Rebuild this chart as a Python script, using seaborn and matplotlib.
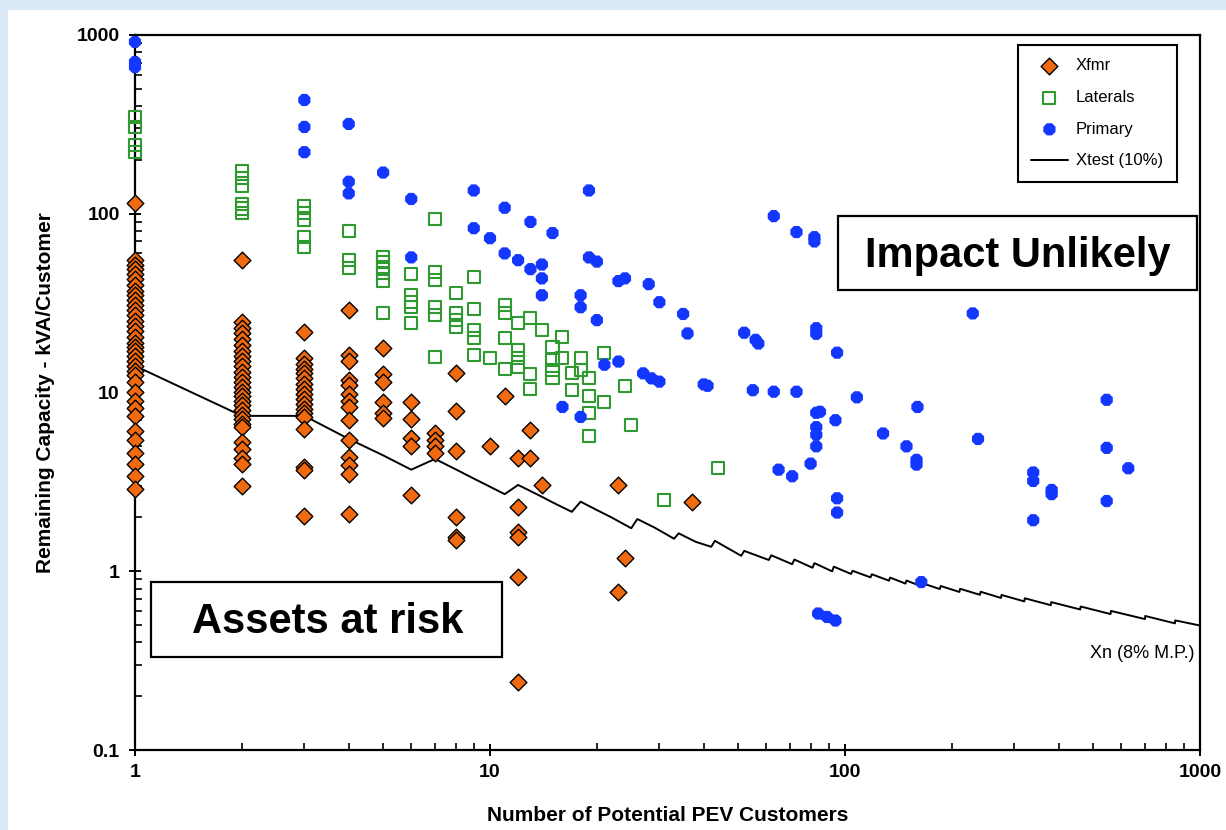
import numpy as np
import pandas as pd
import matplotlib
matplotlib.use("Agg")
import matplotlib.pyplot as plt
import seaborn as sns
from matplotlib.patches import Rectangle
from matplotlib.ticker import FixedLocator, LogLocator, NullFormatter

# ---------------- data ----------------
# Xfmr: remaining capacity per customer, columns at small customer counts
xfmr_y_n1 = [115, 55, 52, 49, 46, 43, 40, 37, 35, 33, 31, 29, 27, 25, 23.5, 22,
             20.5, 19, 18, 17, 16, 15, 14, 13.2, 12.5, 11.5, 10.1, 9.0, 8.2, 7.4,
             6.1, 5.4, 4.6, 4.0, 3.4, 2.9]
xfmr_y_n2 = [55, 24.9, 23, 21.5, 20, 18.5, 17, 16, 15, 14, 13, 12.2, 11.5, 10.8,
             10.1, 9.5, 9.0, 8.5, 8.0, 7.5, 7.1, 6.7, 6.4, 5.3, 4.8, 4.3, 4.0, 3.0]
xfmr_y_n3 = [21.9, 15.5, 14.5, 13.6, 12.8, 12, 11.2, 10.5, 9.8, 9.2, 8.6, 8.1,
             7.7, 7.3, 6.25, 3.85, 3.7, 2.03]
xfmr_y_n4 = [28.9, 16.2, 15.0, 11.7, 11.0, 9.8, 9.0, 8.3, 7.0, 5.4, 4.35, 3.95,
             3.5, 2.1]
xfmr_other_x = [5, 5, 5, 5, 5, 5, 6, 6, 6, 6, 6, 7, 7, 7, 7, 8, 8, 8, 8, 8, 8,
                10, 11, 12, 12, 12, 12, 12, 12, 13, 13, 14, 23, 23, 24, 37]
xfmr_other_y = [17.7, 12.7, 11.5, 8.9, 7.7, 7.2, 8.9, 7.1, 5.6, 5.0, 2.66, 5.95,
                5.4, 5.0, 4.6, 12.9, 7.9, 4.7, 2.0, 1.55, 1.5, 5.0, 9.6, 4.3,
                2.3, 1.65, 1.55, 0.93, 0.24, 6.2, 4.3, 3.05, 3.05, 0.77, 1.19,
                2.45]

# Laterals
lat_x = [1, 1, 1, 1, 2, 2, 2, 2, 2, 2, 3, 3, 3, 3, 3, 4, 4, 4,
         5, 5, 5, 5, 5, 5, 6, 6, 6, 6, 6, 7, 7, 7, 7, 7, 7, 8, 8, 8, 8,
         9, 9, 9, 9, 9, 10, 11, 11, 11, 11, 12, 12, 12, 12, 13, 13, 13, 14,
         15, 15, 15, 15, 16, 16, 17, 17, 18, 18, 19, 19, 19, 19, 21, 21,
         24, 25, 31, 44]
lat_y = [346, 307, 242, 222, 174, 158, 143, 114, 107, 101, 111, 101, 92, 74, 65,
         80, 55, 49.5, 57.5, 54, 50.6, 46.8, 42.2, 28, 45.8, 35, 32.2, 30.2,
         24.4, 94, 47, 42.6, 30.2, 27.1, 15.7, 35.9, 27.7, 25.4, 23.3, 44.3,
         29.5, 22.4, 20.1, 16.2, 15.5, 30.9, 27.7, 20.3, 13.5, 24.4, 17.3,
         15.5, 13.9, 26, 12.7, 10.4, 22.4, 18, 15.2, 13.4, 12, 20.5, 15.5,
         12.9, 10.3, 15.5, 13.4, 12, 9.5, 7.7, 5.7, 16.6, 8.8, 10.9, 6.6,
         2.5, 3.76]

# Primary
prim_x = [1, 1, 1, 3, 3, 3, 4, 4, 4, 5, 6, 6, 9, 9, 10, 11, 11, 12, 13, 13,
          14, 14, 14, 15, 16, 18, 18, 18, 19, 19, 20, 20, 21, 23, 23, 24, 27,
          28, 28.5, 30, 30, 35, 36, 40, 41, 52, 56, 57, 55, 63, 63, 65, 71, 73,
          73, 80, 82, 82, 83, 83, 83, 83, 83, 83, 84, 89, 94, 85, 94, 95, 95,
          95, 108, 128, 149, 159, 159, 160, 164, 229, 237, 339, 339, 339, 382,
          382, 546, 546, 546, 628]
prim_y = [915, 706, 662, 433, 306, 221, 318, 151, 130, 170, 121, 57, 135, 83,
          73, 108, 60, 55, 90, 49, 52, 43.5, 35, 78, 8.3, 35, 30, 7.3, 135, 57,
          54, 25.4, 14.3, 42, 14.9, 43.5, 12.8, 40.4, 12.0, 32, 11.5, 27.5,
          21.4, 11.1, 10.9, 21.6, 19.7, 18.8, 10.3, 97, 10.1, 3.7, 3.4, 79,
          10.1, 4.0, 74, 70, 22.9, 21.3, 7.7, 6.4, 5.8, 5.0, 0.58, 0.555, 0.53,
          7.8, 7.0, 16.7, 2.56, 2.13, 9.4, 5.9, 5.0, 4.2, 3.95, 8.3, 0.87,
          27.7, 5.5, 3.57, 3.2, 1.93, 2.85, 2.7, 9.1, 4.9, 2.47, 3.77]

# Xtest (10%) threshold curve vertices
xtest_x = [1, 2, 3, 4, 5, 6, 7, 8, 9, 10, 11, 12, 13, 14, 15, 16, 17, 18, 20,
           22, 25, 26, 29, 33, 34, 38, 42, 43, 51, 52, 61, 62, 71, 72, 81, 82,
           92, 93, 104, 105, 118, 119, 133, 134, 148, 149, 165, 166, 185, 186,
           210, 211, 240, 241, 275, 276, 320, 321, 380, 381, 460, 461, 560,
           561, 700, 701, 850, 851, 1000]
xtest_y = [14.1, 7.4, 7.4, 5.5, 4.45, 3.7, 4.25, 3.72, 3.3, 2.97, 2.7, 3.04,
           2.81, 2.61, 2.43, 2.28, 2.15, 2.45, 2.2, 2.0, 1.74, 1.96, 1.76, 1.52,
           1.63, 1.46, 1.37, 1.48, 1.22, 1.30, 1.156, 1.228, 1.095, 1.163,
           1.046, 1.110, 0.999, 1.061, 0.966, 1.006, 0.924, 0.962, 0.886,
           0.922, 0.853, 0.887, 0.820, 0.854, 0.795, 0.827, 0.766, 0.798, 0.738,
           0.768, 0.709, 0.737, 0.678, 0.706, 0.646, 0.672, 0.611, 0.635, 0.576,
           0.600, 0.540, 0.562, 0.511, 0.531, 0.497]

x_ticks = [1, 10, 100, 1000]
x_tick_labels = ["1", "10", "100", "1000"]
y_ticks = [0.1, 1, 10, 100, 1000]
y_tick_labels = ["0.1", "1", "10", "100", "1000"]

# ---------------- build tables ----------------
xfmr_x = ([1] * len(xfmr_y_n1) + [2] * len(xfmr_y_n2) + [3] * len(xfmr_y_n3)
          + [4] * len(xfmr_y_n4) + xfmr_other_x)
xfmr_y = xfmr_y_n1 + xfmr_y_n2 + xfmr_y_n3 + xfmr_y_n4 + xfmr_other_y
df_xfmr = pd.DataFrame({"n": xfmr_x, "cap": xfmr_y})
df_lat = pd.DataFrame({"n": lat_x, "cap": lat_y})
df_prim = pd.DataFrame({"n": prim_x, "cap": prim_y})
df_line = pd.DataFrame({"n": xtest_x, "cap": xtest_y})

# ---------------- style ----------------
sns.set_style("white")
plt.rcParams["font.family"] = ["Liberation Sans", "DejaVu Sans"]
plt.rcParams["text.color"] = "black"
plt.rcParams["axes.labelcolor"] = "black"
plt.rcParams["xtick.color"] = "black"
plt.rcParams["ytick.color"] = "black"

ORANGE = "#f26a0f"
GREEN = "#2f9a2f"
BLUE = "#1437ff"

fig = plt.figure(figsize=(12.26, 8.30), dpi=100, facecolor="#dce9f6")
fig.patches.append(Rectangle((8 / 1226, 0), 1, 1 - 10 / 830,
                             transform=fig.transFigure, facecolor="white",
                             edgecolor="none", zorder=-5))
ax = fig.add_axes([135 / 1226, 80 / 830, 1065 / 1226, 715 / 830])
ax.set_zorder(2)
ax.set_facecolor("white")

sns.lineplot(data=df_line, x="n", y="cap", sort=False, estimator=None,
             color="black", linewidth=1.4, ax=ax, label="Xtest (10%)",
             zorder=3, legend=False)

sns.scatterplot(data=df_xfmr, x="n", y="cap", marker="D", s=72, color=ORANGE,
                edgecolor="black", linewidth=1.0, ax=ax, label="Xfmr",
                zorder=5, clip_on=False, legend=False)
h_xfmr = ax.collections[-1]

sns.scatterplot(data=df_lat, x="n", y="cap", marker="s", s=75, color=GREEN,
                ax=ax, label="Laterals", zorder=4, clip_on=False, legend=False)
h_lat = ax.collections[-1]
h_lat.set_facecolor("none")
h_lat.set_edgecolor(GREEN)
h_lat.set_linewidth(1.5)

sns.scatterplot(data=df_prim, x="n", y="cap", marker="8", s=90, color=BLUE,
                edgecolor="none", linewidth=0, ax=ax, label="Primary",
                zorder=4, clip_on=False, legend=False)
h_prim = ax.collections[-1]
h_line = ax.lines[0]

ax.set_xscale("log")
ax.set_yscale("log")
ax.set_xlim(1, 1000)
ax.set_ylim(0.1, 1000)

ax.xaxis.set_major_locator(FixedLocator(x_ticks))
ax.set_xticklabels(x_tick_labels)
ax.yaxis.set_major_locator(FixedLocator(y_ticks))
ax.set_yticklabels(y_tick_labels)
ax.xaxis.set_minor_locator(LogLocator(base=10, subs=np.arange(2, 10)))
ax.yaxis.set_minor_locator(LogLocator(base=10, subs=np.arange(2, 10)))
ax.xaxis.set_minor_formatter(NullFormatter())
ax.yaxis.set_minor_formatter(NullFormatter())

ax.tick_params(which="major", direction="inout", length=8, width=1.4,
               colors="black", labelsize=14, bottom=True, left=True,
               top=False, right=False)
ax.tick_params(which="minor", direction="in", length=5, width=1.2,
               colors="black", bottom=True, left=True, top=False, right=False)
ax.tick_params(axis="x", which="major", pad=6)
ax.tick_params(axis="y", which="major", pad=7)
for lab in ax.get_xticklabels() + ax.get_yticklabels():
    lab.set_fontweight("bold")
    lab.set_color("black")

for sp in ax.spines.values():
    sp.set_color("black")
    sp.set_linewidth(1.6)
    sp.set_visible(True)

ax.set_xlabel("Number of Potential PEV Customers", fontsize=15,
              fontweight="bold", color="black")
ax.set_ylabel("Remaining Capacity - kVA/Customer", fontsize=15,
              fontweight="bold", color="black")
ax.xaxis.set_label_coords(0.5, -0.078)
ax.yaxis.set_label_coords(-0.075, 0.5)

leg = ax.legend([h_xfmr, h_lat, h_prim, h_line],
                ["Xfmr", "Laterals", "Primary", "Xtest (10%)"],
                loc="upper right", bbox_to_anchor=(0.978, 0.986),
                borderaxespad=0, frameon=True, fancybox=False,
                edgecolor="black", framealpha=1, fontsize=12, borderpad=0.8,
                labelspacing=1.0, handlelength=2.2, handletextpad=0.5,
                scatterpoints=1)
leg.get_frame().set_linewidth(1.5)
leg.set_zorder(10)
for t in leg.get_texts():
    t.set_color("black")

# annotation boxes
ax.add_patch(Rectangle((0.660, 0.6434), 0.337, 0.1035, transform=ax.transAxes,
                       facecolor="white", edgecolor="black", linewidth=1.6,
                       zorder=8))
ax.text(0.8286, 0.691, "Impact Unlikely", transform=ax.transAxes,
        ha="center", va="center", fontsize=30, fontweight="bold",
        color="black", zorder=9)

ax.add_patch(Rectangle((0.01502, 0.1301), 0.3296, 0.1049,
                       transform=ax.transAxes, facecolor="white",
                       edgecolor="black", linewidth=1.6, zorder=8))
ax.text(0.1808, 0.179, "Assets at risk", transform=ax.transAxes,
        ha="center", va="center", fontsize=30, fontweight="bold",
        color="black", zorder=9)

ax.text(0.9953, 0.1287, "Xn (8% M.P.)", transform=ax.transAxes, ha="right",
        va="baseline", fontsize=13, color="black", zorder=9)

fig.savefig("out.png", dpi=100, facecolor=fig.get_facecolor())
